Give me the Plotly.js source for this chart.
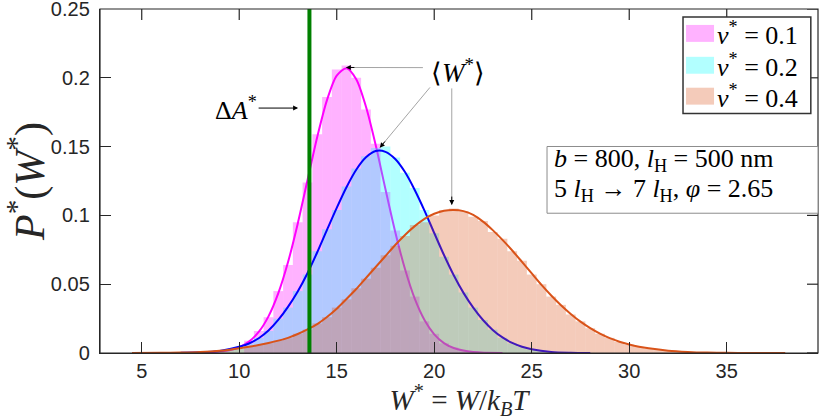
<!DOCTYPE html>
<html>
<head>
<meta charset="utf-8">
<script src="https://cdn.plot.ly/plotly-3.0.1.min.js"></script>
<style>
  html, body { margin: 0; padding: 0; background: #fff; }
  #graph { width: 822px; height: 420px; }
</style>
</head>
<body>
<div id="graph"></div>
<script>
/* ----- histogram data (bin centres, bin width 0.5) ----- */
var binWidth = 0.5;

var histPinkX = [10.5, 11, 11.5, 12, 12.5, 13, 13.5, 14, 14.5, 15, 15.5, 16, 16.5, 17, 17.5, 18,
                 18.5, 19, 19.5, 20, 20.5, 21, 21.5, 22];
var histPinkY = [0.009, 0.016, 0.026, 0.045, 0.064, 0.095, 0.124, 0.159, 0.186, 0.206, 0.209, 0.200,
                 0.177, 0.152, 0.117, 0.089, 0.060, 0.041, 0.023, 0.014, 0.007, 0.004, 0.002, 0.001];

var histBlueX = [9, 9.5, 10, 10.5, 11, 11.5, 12, 12.5, 13, 13.5, 14, 14.5, 15, 15.5, 16, 16.5, 17,
                 17.5, 18, 18.5, 19, 19.5, 20, 20.5, 21, 21.5, 22, 22.5, 23, 23.5, 24, 24.5, 25,
                 25.5, 26, 26.5, 27];
var histBlueY = [0.0015, 0.003, 0.0045, 0.007, 0.011, 0.016, 0.025, 0.033, 0.045, 0.057, 0.074,
                 0.090, 0.104, 0.121, 0.134, 0.143, 0.149, 0.150, 0.142, 0.131, 0.120, 0.104,
                 0.087, 0.070, 0.057, 0.044, 0.033, 0.024, 0.017, 0.011, 0.007, 0.0045, 0.0027,
                 0.0015, 0.0008, 0.0004, 0.0002];

var histOrangeX = [7, 7.5, 8, 8.5, 9, 9.5, 10, 10.5, 11, 11.5, 12, 12.5, 13, 13.5, 14, 14.5, 15,
                   15.5, 16, 16.5, 17, 17.5, 18, 18.5, 19, 19.5, 20, 20.5, 21, 21.5, 22, 22.5, 23,
                   23.5, 24, 24.5, 25, 25.5, 26, 26.5, 27, 27.5, 28, 28.5, 29, 29.5, 30, 30.5, 31,
                   31.5, 32, 32.5, 33, 33.5, 34];
var histOrangeY = [0.0003, 0.0005, 0.0007, 0.001, 0.0015, 0.0022, 0.0032, 0.0043, 0.0057, 0.0072,
                   0.009, 0.0108, 0.014, 0.017, 0.0215, 0.026, 0.033, 0.039, 0.047, 0.054, 0.062,
                   0.071, 0.078, 0.085, 0.093, 0.095, 0.100, 0.104, 0.105, 0.103, 0.099, 0.096,
                   0.088, 0.083, 0.074, 0.067, 0.057, 0.050, 0.041, 0.035, 0.028, 0.023, 0.018,
                   0.014, 0.011, 0.008, 0.006, 0.0045, 0.0033, 0.0024, 0.0017, 0.0012, 0.0008,
                   0.0005, 0.0003];

/* ----- fitted distributions ----- */
var fitPinkX = [7.5, 8.5, 9.5, 10, 10.5, 11, 11.5, 12, 12.5, 13, 13.5, 14, 14.5, 15, 15.5, 16,
                16.5, 17, 17.5, 18, 18.5, 19, 19.5, 20, 20.5, 21, 22, 23.5];
var fitPinkY = [0, 0.0004, 0.002, 0.0042, 0.0083, 0.0153, 0.0266, 0.0433, 0.0659, 0.094, 0.1255,
                0.157, 0.1838, 0.2016, 0.207, 0.199, 0.179, 0.151, 0.119, 0.088, 0.061, 0.0395,
                0.024, 0.0136, 0.0072, 0.0036, 0.0007, 0];

var fitBlueX = [7, 8, 9, 10, 10.5, 11, 11.5, 12, 12.5, 13, 13.5, 14, 14.5, 15, 15.5, 16, 16.5,
                17, 17.5, 18, 18.5, 19, 19.5, 20, 20.5, 21, 21.5, 22, 22.5, 23, 23.5, 24, 24.5,
                25, 26, 27, 28];
var fitBlueY = [0.0002, 0.0005, 0.0015, 0.0045, 0.0069, 0.0107, 0.0163, 0.0240, 0.0335, 0.0447,
                0.0580, 0.0732, 0.0895, 0.1055, 0.1205, 0.1332, 0.1422, 0.1468, 0.1462, 0.1410,
                0.1315, 0.1185, 0.1035, 0.0872, 0.0712, 0.0565, 0.0437, 0.0330, 0.0240, 0.0168,
                0.0113, 0.0073, 0.0045, 0.0027, 0.0008, 0.0002, 0];

var fitOrangeX = [4.5, 6, 7, 8, 9, 9.5, 10, 10.5, 11, 11.5, 12, 12.5, 13, 13.5, 14, 14.5, 15, 15.5,
                  16, 16.5, 17, 17.5, 18, 18.5, 19, 19.5, 20, 20.5, 21, 21.5, 22, 22.5, 23, 23.5,
                  24, 24.5, 25, 25.5, 26, 26.5, 27, 27.5, 28, 28.5, 29, 29.5, 30, 30.5, 31, 32,
                  33, 34, 35, 36, 38];
var fitOrangeY = [0, 0.0001, 0.0003, 0.0007, 0.0016, 0.0024, 0.0034, 0.0045, 0.0058, 0.0073,
                  0.009, 0.011, 0.0138, 0.0172, 0.021, 0.0262, 0.0322, 0.0392, 0.0465, 0.0545,
                  0.0625, 0.0705, 0.0785, 0.0858, 0.0922, 0.0975, 0.1012, 0.1034, 0.104, 0.1031,
                  0.1003, 0.0955, 0.0893, 0.0822, 0.0745, 0.0662, 0.0578, 0.0495, 0.0418, 0.0347,
                  0.0284, 0.0228, 0.0181, 0.0141, 0.0108, 0.0082, 0.0062, 0.0046, 0.0034, 0.0017,
                  0.0008, 0.0003, 0.0001, 0, 0];

var legendLabels = ['<i>v</i><sup>*</sup> = 0.1', '<i>v</i><sup>*</sup> = 0.2', '<i>v</i><sup>*</sup> = 0.4'];
var deltaA = 13.6;                 // free energy difference, green line
var meanW = [15.47, 17.21, 20.9];  // peaks pointed at by <W*>
var meanP = [0.2075, 0.1492, 0.1075];

var xTicks = [5, 10, 15, 20, 25, 30, 35];
var yTicks = [0, 0.05, 0.1, 0.15, 0.2, 0.25];
var yTickText = ['0', '0.05', '0.1', '0.15', '0.2', '0.25'];
var xRange = [2.86, 39.68];
var yRange = [0, 0.25];

/* ----- colours ----- */
var histColors = ['rgba(255,0,255,0.3)', 'rgba(0,255,255,0.3)', 'rgba(217,83,25,0.3)'];
var lineColors = ['#FF00FF', '#0000FF', '#D95319'];
var axisColor = '#262626';

var serif = 'Liberation Serif, Times New Roman, serif';
var sans = 'Liberation Sans, Arial, sans-serif';
var sp = '\u00A0';

/* each series gets its own overlaid subplot so that later histograms
   cover earlier fit lines, as in the original figure */
function histTrace(x, y, i, ax) {
    return {
        type: 'bar', x: x, y: y, width: binWidth,
        marker: {color: histColors[i], line: {width: 0}},
        xaxis: 'x' + ax, yaxis: 'y' + ax,
        hoverinfo: 'skip', showlegend: false
    };
}
function fitTrace(x, y, i, ax) {
    return {
        type: 'scatter', mode: 'lines', x: x, y: y,
        line: {color: lineColors[i], width: 2, shape: 'spline', smoothing: 0.8},
        xaxis: 'x' + ax, yaxis: 'y' + ax,
        hoverinfo: 'skip', showlegend: false
    };
}

var data = [
    histTrace(histPinkX, histPinkY, 0, ''),
    fitTrace(fitPinkX, fitPinkY, 0, ''),
    histTrace(histBlueX, histBlueY, 1, '2'),
    fitTrace(fitBlueX, fitBlueY, 1, '2'),
    histTrace(histOrangeX, histOrangeY, 2, '3'),
    fitTrace(fitOrangeX, fitOrangeY, 2, '3')
];

var plotW = 718, plotH = 344.3, tickLen = 11;

var axisCommon = {
    showline: true, linecolor: axisColor, linewidth: 1.2,
    ticks: 'inside', ticklen: tickLen, tickwidth: 1.2, tickcolor: axisColor,
    showgrid: false, zeroline: false, ticklabeloverflow: 'allow',
    tickfont: {family: sans, size: 20, color: axisColor}
};

var hiddenAxis = {visible: false, showgrid: false, zeroline: false, fixedrange: true};

var layout = {
    width: 822, height: 420,
    margin: {l: 100, r: 4, t: 9, b: 67},
    paper_bgcolor: '#fff', plot_bgcolor: '#fff',
    barmode: 'overlay',
    showlegend: false,
    xaxis: Object.assign({}, axisCommon, {
        range: xRange, tickvals: xTicks,
        title: {text: '<i>W</i><sup>*</sup>' + sp + '=' + sp + '<i>W</i>/<i>k</i><sub><i>B</i></sub><i>T</i>',
                font: {family: serif, size: 29, color: axisColor}, standoff: 3}
    }),
    yaxis: Object.assign({}, axisCommon, {
        range: yRange, tickvals: yTicks, ticktext: yTickText,
        ticklabelstandoff: 5,
        title: {text: '<i>P</i><sup>*</sup>(<i>W</i><sup>*</sup>)',
                font: {family: serif, size: 42, color: axisColor}, standoff: 4}
    }),
    xaxis2: Object.assign({}, hiddenAxis, {overlaying: 'x', anchor: 'y2', range: xRange}),
    yaxis2: Object.assign({}, hiddenAxis, {overlaying: 'y', anchor: 'x2', range: yRange}),
    xaxis3: Object.assign({}, hiddenAxis, {overlaying: 'x', anchor: 'y3', range: xRange}),
    yaxis3: Object.assign({}, hiddenAxis, {overlaying: 'y', anchor: 'x3', range: yRange}),
    shapes: [],
    annotations: []
};

/* green line marking Delta A* */
layout.shapes.push({
    type: 'line', xref: 'x', yref: 'paper', x0: deltaA, x1: deltaA, y0: 0, y1: 1,
    line: {color: '#008000', width: 4}, layer: 'above'
});

/* box frame with ticks on top and right (MATLAB "box on") */
layout.shapes.push({
    type: 'rect', xref: 'paper', yref: 'paper', x0: 0, x1: 1, y0: 0, y1: 1,
    line: {color: axisColor, width: 1.2}, layer: 'above'
});
xTicks.forEach(function(t) {
    layout.shapes.push({
        type: 'line', xref: 'x', yref: 'paper', x0: t, x1: t, y0: 1, y1: 1 - tickLen / plotH,
        line: {color: axisColor, width: 1.2}, layer: 'above'
    });
});
yTicks.forEach(function(t) {
    layout.shapes.push({
        type: 'line', xref: 'paper', yref: 'y', x0: 1, x1: 1 - tickLen / plotW, y0: t, y1: t,
        line: {color: axisColor, width: 1.2}, layer: 'above'
    });
});

/* Delta A* label with arrow */
layout.annotations.push({
    xref: 'x', yref: 'y', x: 13.02, y: 0.178, ax: -62, ay: 0,
    text: '\u0394<i>A</i><sup>*</sup>', font: {family: serif, size: 26, color: '#000'},
    showarrow: true, arrowhead: 2, arrowsize: 1, arrowwidth: 1, arrowcolor: '#000'
});

/* <W*> label, gray leader lines and black heads */
layout.annotations.push({
    xref: 'x', yref: 'y', x: 21.24, y: 0.2053, showarrow: false,
    text: '\u27E8<i>W</i><sup>*</sup>\u27E9', font: {family: serif, size: 27, color: '#000'}
});
var leaderTails = [[19.42, 0.2074], [19.78, 0.193], [20.9, 0.1923]];
var headOffsets = [[10, 0], [6.3, -7.7], [0, -10]];
leaderTails.forEach(function(t, i) {
    layout.shapes.push({
        type: 'line', xref: 'x', yref: 'y', x0: t[0], y0: t[1], x1: meanW[i], y1: meanP[i],
        line: {color: '#9a9a9a', width: 0.9}, layer: 'above'
    });
    layout.annotations.push({
        xref: 'x', yref: 'y', x: meanW[i], y: meanP[i], ax: headOffsets[i][0], ay: headOffsets[i][1],
        text: '', showarrow: true, arrowhead: 2, arrowsize: 1, arrowwidth: 1, arrowcolor: '#000'
    });
});

/* legend box drawn by hand (MATLAB style patches) */
layout.shapes.push({
    type: 'rect', xref: 'paper', yref: 'paper', x0: 0.812, x1: 0.990, y0: 0.696, y1: 0.977,
    line: {color: '#333', width: 1.5}, fillcolor: '#fff', layer: 'above'
});
var legendRows = [[0.9044, 0.9537], [0.8118, 0.861], [0.722, 0.7712]];
legendRows.forEach(function(r, i) {
    layout.shapes.push({
        type: 'rect', xref: 'paper', yref: 'paper', x0: 0.8162, x1: 0.8552, y0: r[0], y1: r[1],
        line: {width: 0}, fillcolor: histColors[i], layer: 'above'
    });
    layout.annotations.push({
        xref: 'paper', yref: 'paper', x: 0.8565, y: (r[0] + r[1]) / 2,
        xanchor: 'left', yanchor: 'middle', showarrow: false,
        text: legendLabels[i], font: {family: serif, size: 26, color: '#000'}
    });
});

/* parameter box */
layout.shapes.push({
    type: 'rect', xref: 'paper', yref: 'paper', x0: 0.6226, x1: 1.0, y0: 0.4063, y1: 0.6003,
    line: {color: '#8c8c8c', width: 1}, fillcolor: '#fff', layer: 'above'
});
var paramLines = [
    '<i>b</i>' + sp + '=' + sp + '800, <i>l</i><sub>H</sub>' + sp + '=' + sp + '500 nm',
    '5 <i>l</i><sub>H</sub> \u2192 7 <i>l</i><sub>H</sub>, <i>\u03C6</i>' + sp + '=' + sp + '2.65'
];
var paramY = [0.5598, 0.4731];
paramLines.forEach(function(txt, i) {
    layout.annotations.push({
        xref: 'paper', yref: 'paper', x: 0.629, y: paramY[i], xanchor: 'left', yanchor: 'middle',
        showarrow: false, text: txt, font: {family: serif, size: 26, color: '#000'}
    });
});

Plotly.newPlot('graph', data, layout, {staticPlot: true, displayModeBar: false});
</script>
</body>
</html>
